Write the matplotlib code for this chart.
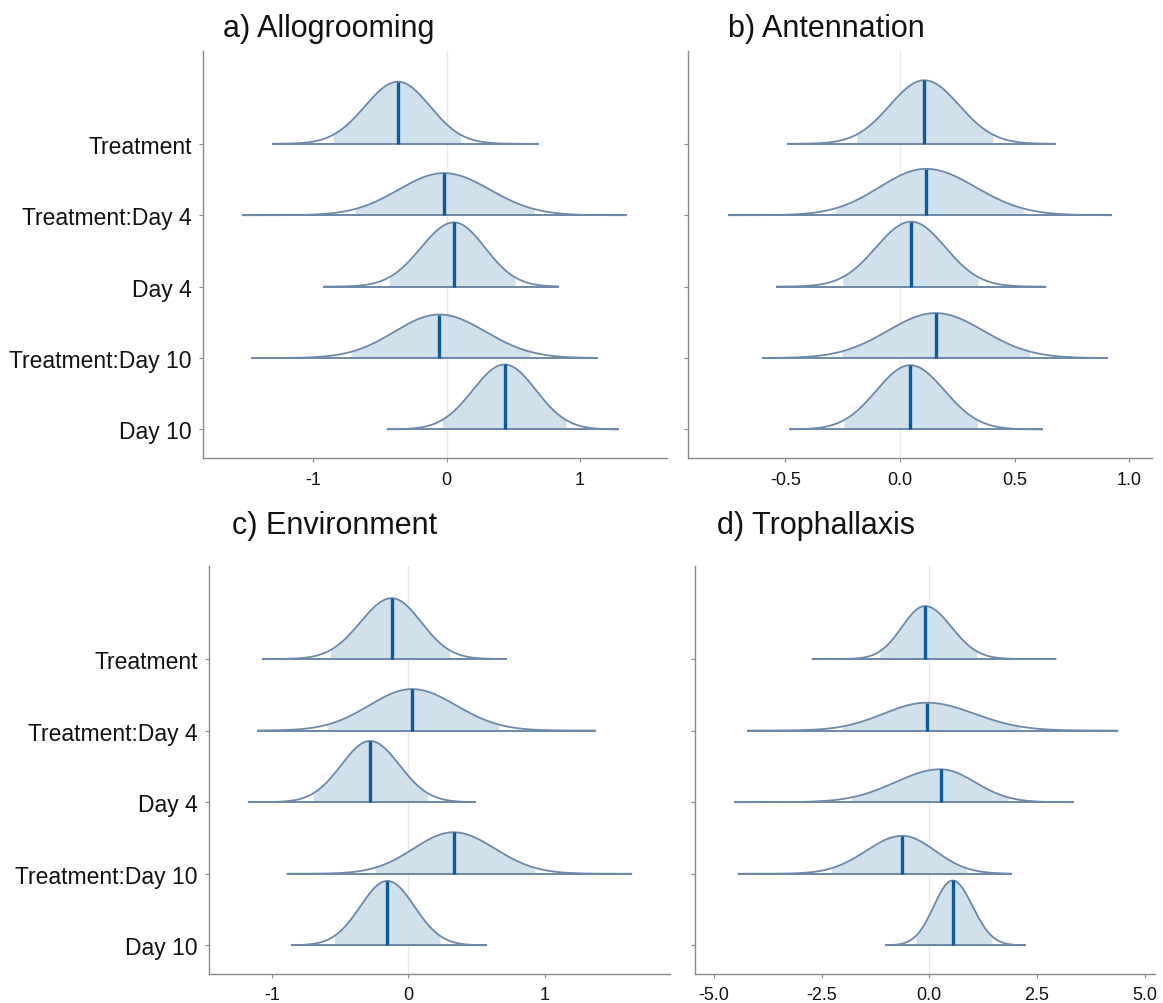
import numpy as np
import matplotlib.pyplot as plt

PARAMS = ["Treatment", "Treatment:Day 4", "Day 4", "Treatment:Day 10", "Day 10"]

# posterior summaries per behaviour: median, 95% interval, full range, peak height (rows)
allo_median = [-0.365, -0.02, 0.055, -0.055, 0.435]
allo_lo = [-0.85, -0.688, -0.43, -0.713, -0.033]
allo_hi = [0.105, 0.657, 0.512, 0.625, 0.895]
allo_min = [-1.30, -1.526, -0.92, -1.46, -0.443]
allo_max = [0.683, 1.343, 0.837, 1.125, 1.283]
allo_peak = [0.87, 0.59, 0.90, 0.61, 0.91]

ante_median = [0.106, 0.113, 0.048, 0.155, 0.044]
ante_lo = [-0.189, -0.283, -0.25, -0.254, -0.244]
ante_hi = [0.404, 0.537, 0.341, 0.564, 0.338]
ante_min = [-0.487, -0.745, -0.537, -0.598, -0.479]
ante_max = [0.675, 0.919, 0.632, 0.90, 0.617]
ante_peak = [0.89, 0.65, 0.91, 0.63, 0.90]

env_median = [-0.12, 0.029, -0.279, 0.333, -0.152]
env_lo = [-0.57, -0.589, -0.694, -0.242, -0.54]
env_hi = [0.303, 0.663, 0.144, 0.927, 0.235]
env_min = [-1.066, -1.10, -1.169, -0.883, -0.851]
env_max = [0.714, 1.367, 0.487, 1.636, 0.572]
env_peak = [0.85, 0.58, 0.855, 0.58, 0.90]

tro_median = [-0.10, -0.06, 0.263, -0.627, 0.54]
tro_lo = [-1.146, -2.02, -1.80, -2.27, -0.31]
tro_hi = [1.10, 2.105, 1.83, 0.867, 1.447]
tro_min = [-2.71, -4.20, -4.51, -4.43, -1.006]
tro_max = [2.93, 4.35, 3.33, 1.89, 2.22]
tro_peak = [0.74, 0.39, 0.46, 0.53, 0.906]

TITLES = ["a) Allogrooming", "b) Antennation", "c) Environment", "d) Trophallaxis"]
XTICKS = [[-1, 0, 1], [-0.5, 0.0, 0.5, 1.0], [-1, 0, 1], [-5.0, -2.5, 0.0, 2.5, 5.0]]
XTICKLABELS = [["-1", "0", "1"], ["-0.5", "0.0", "0.5", "1.0"],
               ["-1", "0", "1"], ["-5.0", "-2.5", "0.0", "2.5", "5.0"]]
XLIMS = [(-1.828, 1.653), (-0.924, 1.098), (-1.46, 1.92), (-5.44, 5.24)]

FILL = "#d1e1ec"
LINE = "#6d88a8"
MED = "#0f5a94"
AXIS = "#8a8a8a"

plt.rcParams["font.family"] = ["Liberation Sans", "DejaVu Sans"]


def draw_areas(ax, median, lo, hi, xmin, xmax, peak):
    n = len(PARAMS)
    for i in range(n):
        y0 = n - i
        m = median[i]
        sl = (m - lo[i]) / 1.96
        sr = (hi[i] - m) / 1.96

        def height(x):
            s = np.where(x < m, sl, sr)
            return peak[i] * np.exp(-0.5 * ((x - m) / s) ** 2)

        xi = np.linspace(lo[i], hi[i], 300)
        ax.fill_between(xi, y0, y0 + height(xi), color=FILL, lw=0, zorder=2)
        x = np.linspace(xmin[i], xmax[i], 600)
        ax.plot(x, y0 + height(x), color=LINE, lw=1.3, zorder=3)
        ax.plot([xmin[i], xmax[i]], [y0, y0], color=LINE, lw=1.4, zorder=3)
        ax.plot([m, m], [y0, y0 + peak[i]], color=MED, lw=2.4, zorder=4,
                solid_capstyle="butt")


def main():
    fig = plt.figure(figsize=(11.63, 10.04), dpi=100)
    boxes = [
        [0.1745, 0.5428, 0.3990, 0.4054],
        [0.5916, 0.5428, 0.3989, 0.4054],
        [0.1797, 0.0289, 0.3964, 0.4064],
        [0.5976, 0.0289, 0.3955, 0.4064],
    ]
    data = [
        (allo_median, allo_lo, allo_hi, allo_min, allo_max, allo_peak),
        (ante_median, ante_lo, ante_hi, ante_min, ante_max, ante_peak),
        (env_median, env_lo, env_hi, env_min, env_max, env_peak),
        (tro_median, tro_lo, tro_hi, tro_min, tro_max, tro_peak),
    ]
    title_pos = [(223, 37), (728, 37), (232, 534), (717, 534)]

    for k in range(4):
        ax = fig.add_axes(boxes[k])
        ax.axvline(0, color="#e8e8e8", lw=1.0, zorder=0)
        draw_areas(ax, *data[k])

        ax.set_xlim(*XLIMS[k])
        ax.set_ylim(0.6, 6.3)
        ax.set_xticks(XTICKS[k])
        ax.set_xticklabels(XTICKLABELS[k])
        ax.set_yticks(range(len(PARAMS), 0, -1))
        if k % 2 == 0:
            ax.set_yticklabels(PARAMS)
        else:
            ax.set_yticklabels([])

        for side in ["top", "right"]:
            ax.spines[side].set_visible(False)
        for side in ["left", "bottom"]:
            ax.spines[side].set_color(AXIS)
            ax.spines[side].set_linewidth(1.0)
        ax.tick_params(axis="y", length=3, color=AXIS, labelsize=16.5,
                       labelcolor="#111111", pad=5)
        ax.tick_params(axis="x", length=3, color=AXIS, labelsize=13,
                       labelcolor="#111111", pad=6)

        px, py = title_pos[k]
        fig.text(px / 1163, 1 - py / 1004, TITLES[k], fontsize=22,
                 ha="left", va="baseline", color="#111111")

    fig.savefig("out.png", dpi=100, facecolor="white")


if __name__ == "__main__":
    main()
